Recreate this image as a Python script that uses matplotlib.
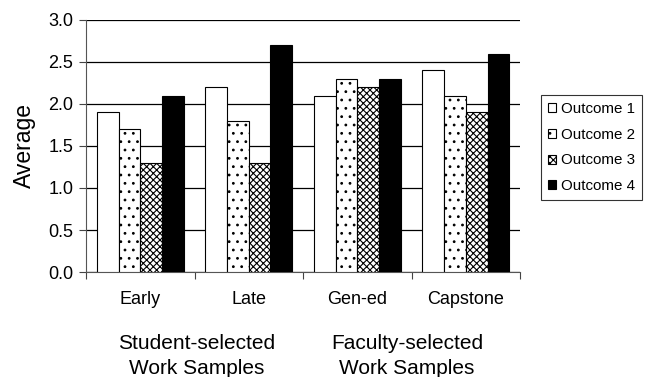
import numpy as np
import matplotlib.pyplot as plt

plt.rcParams['font.family'] = ['Liberation Sans', 'DejaVu Sans']
plt.rcParams['hatch.linewidth'] = 0.8

categories = ['Early', 'Late', 'Gen-ed', 'Capstone']
outcomes = ['Outcome 1', 'Outcome 2', 'Outcome 3', 'Outcome 4']
outcome1 = [1.9, 2.2, 2.1, 2.4]
outcome2 = [1.7, 1.8, 2.3, 2.1]
outcome3 = [1.3, 1.3, 2.2, 1.9]
outcome4 = [2.1, 2.7, 2.3, 2.6]
groups = ['Student-selected\nWork Samples', 'Faculty-selected\nWork Samples']

series = [outcome1, outcome2, outcome3, outcome4]
faces = ['white', 'white', 'white', 'black']
hatches = [None, '..', 'xxxxx', None]

fig = plt.figure(figsize=(6.46, 3.77), dpi=100)
ax = fig.add_axes([0.1331, 0.2785, 0.672, 0.6685])

x = np.arange(len(categories))
w = 0.2
for i, vals in enumerate(series):
    ax.bar(x - 0.3 + i * w, vals, w, color=faces[i], hatch=hatches[i],
           edgecolor='black', linewidth=0.8, label=outcomes[i], zorder=3)

ax.set_xlim(-0.5, len(categories) - 0.5)
ax.set_ylim(0, 3.0)
yt = np.arange(0, 3.01, 0.5)
ax.set_yticks(yt)
ax.set_yticklabels(['%.1f' % v for v in yt], fontsize=13)
ax.yaxis.grid(True, color='black', linewidth=0.9, zorder=0)
ax.set_axisbelow(True)

# ticks sit on the category boundaries, labels in the middle
ax.set_xticks(np.arange(-0.5, len(categories)))
ax.set_xticklabels([])
ax.set_xticks(x, minor=True)
ax.set_xticklabels(categories, minor=True, fontsize=13)
ax.tick_params(axis='x', which='minor', length=0, pad=14)
ax.tick_params(axis='x', which='major', length=5, color='#444444')
ax.tick_params(axis='y', length=5, color='#444444', pad=4)

for s in ['top', 'right']:
    ax.spines[s].set_visible(False)
for s in ['left', 'bottom']:
    ax.spines[s].set_color('#555555')

ax.set_ylabel('Average', fontsize=16.5, labelpad=9)

fig.text(197 / 646, 1 - 356 / 377, groups[0], ha='center', va='center',
         fontsize=15, linespacing=1.45)
fig.text(407 / 646, 1 - 356 / 377, groups[1], ha='center', va='center',
         fontsize=15, linespacing=1.45)

leg = ax.legend(loc='upper left', bbox_to_anchor=(541 / 646, 1 - 95 / 377),
                bbox_transform=fig.transFigure, fontsize=10.9, frameon=True,
                fancybox=False, edgecolor='black', handlelength=0.55,
                handleheight=0.55, handletextpad=0.3, labelspacing=0.78,
                borderpad=0.45, borderaxespad=0)
leg.get_frame().set_linewidth(0.8)

fig.savefig('out.png', dpi=100)
